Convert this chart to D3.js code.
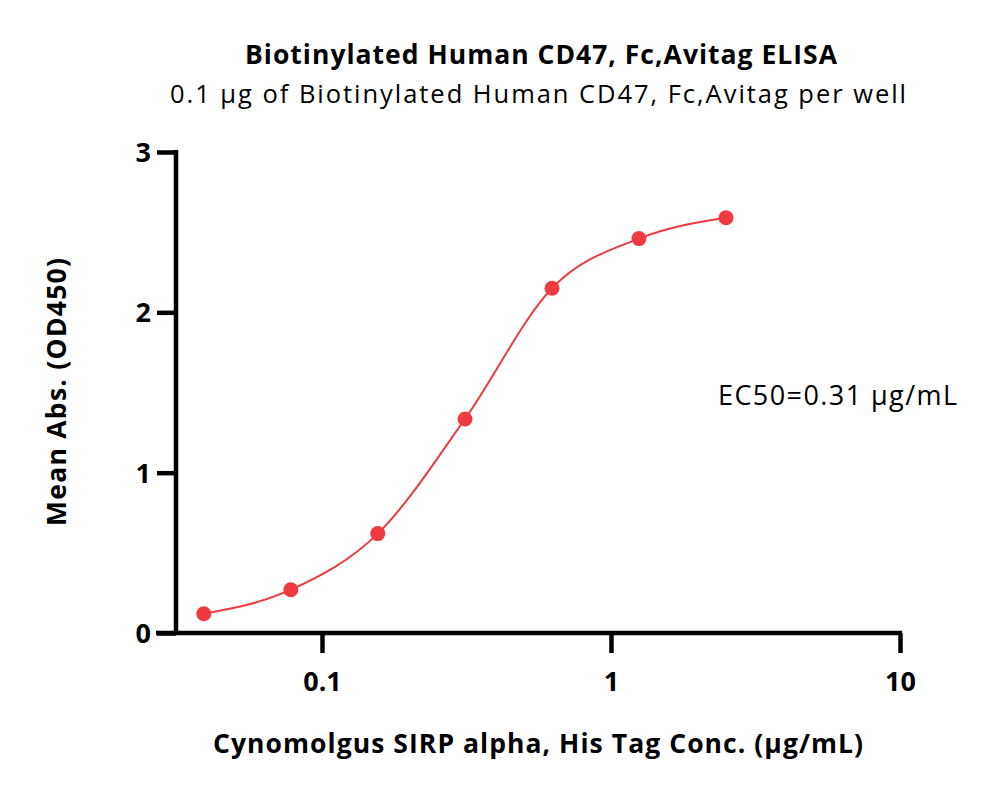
<!DOCTYPE html>
<html>
<head>
<meta charset="utf-8">
<script src="https://cdn.jsdelivr.net/npm/d3@7"></script>
<style>
  html, body { margin: 0; padding: 0; background: #ffffff; }
  svg { display: block; }
  text { font-family: "Open Sans", Lato, "Liberation Sans", sans-serif; fill: #000; }
</style>
</head>
<body>
<svg id="chart" width="1000" height="798"></svg>
<script>
// ---- data ----
const concentrations = [0.039, 0.078, 0.156, 0.3125, 0.625, 1.25, 2.5];
const absorbance     = [0.12, 0.27, 0.62, 1.335, 2.15, 2.46, 2.59];
const xTickValues = [0.1, 1, 10];
const xTickLabels = ["0.1", "1", "10"];
const yTickValues = [0, 1, 2, 3];
const titleText = "Biotinylated Human CD47, Fc,Avitag ELISA";
const subtitleText = "0.1 \u00b5g of Biotinylated Human CD47, Fc,Avitag per well";
const xTitle = "Cynomolgus SIRP alpha, His Tag Conc. (\u00b5g/mL)";
const yTitle = "Mean Abs. (OD450)";
const ec50Label = "EC50=0.31 \u00b5g/mL";

// ---- layout ----
const svg = d3.select("#chart");
const mLeft = 176, mRight = 900, mTop = 152, mBottom = 633;
const red = "#ef3b3f";
const FONT = "'Open Sans', Lato, 'Liberation Sans', sans-serif";

const x = d3.scaleLog().domain([0.03125, 10]).range([mLeft, mRight]);
const y = d3.scaleLinear().domain([0, 3]).range([mBottom, mTop]);

// axes
const xAxis = d3.axisBottom(x).tickValues(xTickValues)
  .tickFormat((d, i) => xTickLabels[i]).tickSize(20).tickSizeOuter(0);
const yAxis = d3.axisLeft(y).tickValues(yTickValues)
  .tickFormat(d3.format("d")).tickSize(19).tickSizeOuter(0).tickPadding(6);

const gx = svg.append("g").attr("transform", `translate(0,${mBottom})`).call(xAxis);
const gy = svg.append("g").attr("transform", `translate(${mLeft},0)`).call(yAxis);

[gx, gy].forEach(g => {
  g.select(".domain").attr("stroke", "#000").attr("stroke-width", 4.5);
  g.selectAll(".tick line").attr("stroke", "#000").attr("stroke-width", 4.5);
  g.selectAll(".tick text").attr("font-family", FONT)
    .attr("font-size", 27).attr("font-weight", "bold").attr("fill", "#000");
});
gx.selectAll(".tick text").attr("y", 58).attr("dy", null);
gy.selectAll(".tick text").attr("dy", "0.35em");
gx.select(".domain").attr("d", `M${mLeft - 20},0H${mRight + 2}`);
gy.select(".domain").attr("d", `M0,${mBottom + 2}V${mTop - 2}`);

// curve through points
const pts = concentrations.map((c, i) => [x(c), y(absorbance[i])]);
svg.append("path")
  .attr("d", d3.line().curve(d3.curveMonotoneX)(pts))
  .attr("fill", "none").attr("stroke", red).attr("stroke-width", 2);

svg.append("g").selectAll("circle").data(pts).join("circle")
  .attr("cx", d => d[0]).attr("cy", d => d[1]).attr("r", 7.5).attr("fill", red);

// texts
function label(txt, xPos, yPos, size, weight, len, anchor, rot) {
  const t = svg.append("text")
    .attr("font-size", size).attr("font-weight", weight)
    .attr("text-anchor", anchor || "middle")
    .attr("textLength", len).attr("lengthAdjust", "spacing")
    .text(txt);
  if (rot) t.attr("transform", `translate(${xPos},${yPos}) rotate(${rot})`);
  else t.attr("x", xPos).attr("y", yPos);
  return t;
}
label(titleText, 541, 63.5, 26.5, "bold", 592);
label(subtitleText, 538, 103, 25.5, "normal", 736);
label(xTitle, 538, 753, 26.5, "bold", 650);
label(yTitle, 66, 392, 26.5, "bold", 268, "middle", -90);
label(ec50Label, 718, 405, 27, "normal", 239, "start");
</script>
</body>
</html>
